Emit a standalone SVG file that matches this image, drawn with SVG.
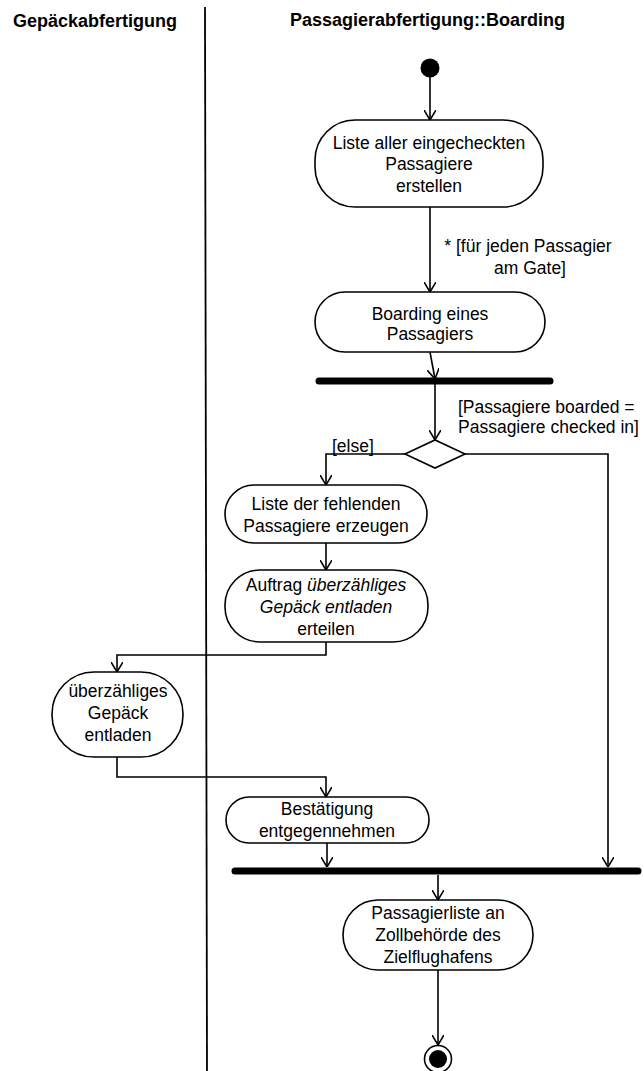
<svg xmlns="http://www.w3.org/2000/svg" width="644" height="1071" viewBox="0 0 644 1071">
  <defs>
    <style>
      .lane { font-family: "Liberation Sans", Arial, sans-serif; font-size: 18px; font-weight: bold; fill: #000; }
      .txt { font-family: "Liberation Sans", Arial, sans-serif; font-size: 17.5px; fill: #000; text-anchor: middle; }
      .lbl { font-family: "Liberation Sans", Arial, sans-serif; font-size: 17.5px; fill: #000; }
      .act { fill: #fff; stroke: #000; stroke-width: 1.6; }
      .flow { fill: none; stroke: #000; stroke-width: 1.6; marker-end: url(#open); }
      .bar { stroke: #000; stroke-width: 7; stroke-linecap: round; }
      .it { font-style: italic; }
    </style>
    <marker id="open" viewBox="0 0 10 12" refX="10" refY="6" markerWidth="10" markerHeight="12" markerUnits="userSpaceOnUse" orient="auto">
      <path d="M0,0 L10,6 L0,12" fill="none" stroke="#000" stroke-width="1.6"/>
    </marker>
  </defs>

  <rect width="644" height="1071" fill="#fff"/>

  <!-- swimlanes -->
  <g id="lanes">
    <line x1="205" y1="7" x2="207" y2="1071" stroke="#000" stroke-width="1.8"/>
    <text class="lane" x="13" y="27">Gepäckabfertigung</text>
    <text class="lane" x="290" y="26">Passagierabfertigung::Boarding</text>
  </g>

  <!-- connectors -->
  <g id="connectors">
    <line class="flow" x1="430" y1="77" x2="430" y2="120"/>
    <line class="flow" x1="430" y1="207" x2="430" y2="292"/>
    <line class="flow" x1="430" y1="352" x2="435" y2="379"/>
    <line class="flow" x1="435" y1="384" x2="435" y2="440"/>
    <polyline class="flow" points="405,454 326,454 326,485"/>
    <polyline class="flow" points="465,454 608,454 608,867"/>
    <line class="flow" x1="326" y1="543" x2="326" y2="570"/>
    <polyline class="flow" points="326,642 326,655 117,655 117,672"/>
    <polyline class="flow" points="117,757 117,777 326,777 326,797"/>
    <line class="flow" x1="327" y1="843" x2="327" y2="867"/>
    <line class="flow" x1="438" y1="875" x2="438" y2="900"/>
    <line class="flow" x1="438" y1="970" x2="438" y2="1045"/>

    <text class="lbl" x="528" y="252" text-anchor="middle">* [für jeden Passagier</text>
    <text class="lbl" x="530" y="274" text-anchor="middle">am Gate]</text>
    <text class="lbl" x="458" y="413">[Passagiere boarded =</text>
    <text class="lbl" x="458" y="433">Passagiere checked in]</text>
    <text class="lbl" x="332" y="452">[else]</text>
  </g>

  <!-- start -->
  <g id="start">
    <circle cx="430" cy="68" r="9.5" fill="#000"/>
  </g>

  <g id="liste-eingecheckt">
    <rect class="act" x="315" y="120" width="228" height="87" rx="40" ry="40"/>
    <text class="txt" x="429" y="149">Liste aller eingecheckten</text>
    <text class="txt" x="429" y="170">Passagiere</text>
    <text class="txt" x="429" y="192">erstellen</text>
  </g>

  <g id="boarding">
    <rect class="act" x="315" y="292" width="230" height="60" rx="30" ry="30"/>
    <text class="txt" x="430" y="320">Boarding eines</text>
    <text class="txt" x="430" y="340">Passagiers</text>
  </g>

  <g id="fork1">
    <line class="bar" x1="319" y1="381" x2="550" y2="381"/>
  </g>

  <g id="decision">
    <polygon points="405,454 435,440 465,454 435,468" fill="#fff" stroke="#000" stroke-width="1.6"/>
  </g>

  <g id="liste-fehlend">
    <rect class="act" x="225" y="485" width="202" height="58" rx="29" ry="29"/>
    <text class="txt" x="326" y="510">Liste der fehlenden</text>
    <text class="txt" x="326" y="532">Passagiere erzeugen</text>
  </g>

  <g id="auftrag">
    <rect class="act" x="225" y="570" width="203" height="72" rx="35" ry="35"/>
    <text class="txt" x="326" y="591">Auftrag <tspan class="it">überzähliges</tspan></text>
    <text class="txt it" x="326" y="613">Gepäck entladen</text>
    <text class="txt" x="326" y="635">erteilen</text>
  </g>

  <g id="gepaeck-entladen">
    <rect class="act" x="52" y="672" width="131" height="85" rx="42" ry="42"/>
    <text class="txt" x="118" y="697">überzähliges</text>
    <text class="txt" x="118" y="719">Gepäck</text>
    <text class="txt" x="118" y="741">entladen</text>
  </g>

  <g id="bestaetigung">
    <rect class="act" x="226" y="797" width="203" height="46" rx="23" ry="23"/>
    <text class="txt" x="327" y="815">Bestätigung</text>
    <text class="txt" x="327" y="837">entgegennehmen</text>
  </g>

  <g id="join">
    <line class="bar" x1="235" y1="871" x2="638" y2="871"/>
  </g>

  <g id="passagierliste">
    <rect class="act" x="343" y="900" width="190" height="70" rx="35" ry="35"/>
    <text class="txt" x="438" y="919">Passagierliste an</text>
    <text class="txt" x="438" y="941">Zollbehörde des</text>
    <text class="txt" x="438" y="963">Zielflughafens</text>
  </g>

  <!-- end -->
  <g id="end">
    <circle cx="438" cy="1059" r="13.5" fill="#fff" stroke="#000" stroke-width="1.6"/>
    <circle cx="438" cy="1059" r="9" fill="#000"/>
  </g>
</svg>
